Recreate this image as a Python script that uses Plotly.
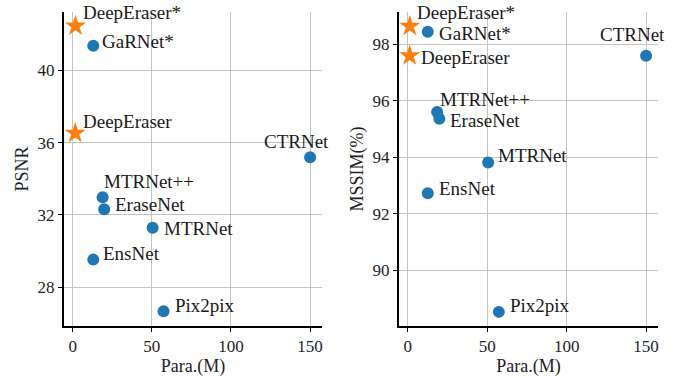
import plotly.graph_objects as go
from plotly.subplots import make_subplots

# ---- data ----
methods = ["DeepEraser*", "GaRNet*", "DeepEraser", "CTRNet", "MTRNet++",
           "EraseNet", "MTRNet", "EnsNet", "Pix2pix"]
params_psnr = [1.8, 13.0, 1.6, 150.0, 18.9, 19.9, 50.5, 13.0, 57.4]
psnr = [42.45, 41.36, 36.52, 35.19, 32.98, 32.31, 31.29, 29.53, 26.67]
params_mssim = [1.3, 12.6, 1.2, 150.0, 18.5, 19.9, 50.6, 12.6, 57.3]
mssim = [98.65, 98.45, 97.60, 97.60, 95.61, 95.37, 93.82, 92.73, 88.53]
is_ours = [True, False, True, False, False, False, False, False, False]

x_ticks = [0, 50, 100, 150]
psnr_ticks = [28, 32, 36, 40]
mssim_ticks = [90, 92, 94, 96, 98]

# ---- styles ----
BLUE = "#1f77b4"
ORANGE = "#ff7f0e"
FONT = "Liberation Serif"

# label offsets in pixels (xshift, yshift, xanchor)
offs_left = [(5, 13, "left"), (7, 4, "left"), (6, 12, "left"), (-14, 16, "center"),
             (-1, 16, "left"), (9, 5, "left"), (9, -1, "left"), (8, 6, "left"), (9, 6, "left")]
offs_right = [(5, 14, "left"), (9, -2, "left"), (9, -2, "left"), (-14, 21, "center"),
              (1, 12, "left"), (9, -2, "left"), (8, 7, "left"), (9, 5, "left"), (9, 6, "left")]

fig = make_subplots(rows=1, cols=2, horizontal_spacing=0.13)


def add_panel(col, xs, ys, offs, xref, yref):
    ox = [x for x, o in zip(xs, is_ours) if not o]
    oy = [y for y, o in zip(ys, is_ours) if not o]
    sx = [x for x, o in zip(xs, is_ours) if o]
    sy = [y for y, o in zip(ys, is_ours) if o]
    fig.add_trace(go.Scatter(x=ox, y=oy, mode="markers",
                             marker=dict(color=BLUE, size=12, symbol="circle"),
                             showlegend=False, cliponaxis=False), row=1, col=col)
    fig.add_trace(go.Scatter(x=sx, y=sy, mode="markers",
                             marker=dict(color=ORANGE, size=16, symbol="star"),
                             showlegend=False, cliponaxis=False), row=1, col=col)
    for name, x, y, (dx, dy, anc) in zip(methods, xs, ys, offs):
        fig.add_annotation(x=x, y=y, xref=xref, yref=yref, text=name,
                           showarrow=False, xanchor=anc, yanchor="middle",
                           xshift=dx, yshift=dy,
                           font=dict(family=FONT, size=19, color="#1a1a1a"))


add_panel(1, params_psnr, psnr, offs_left, "x", "y")
add_panel(2, params_mssim, mssim, offs_right, "x2", "y2")

axis_common = dict(showline=True, linecolor="black", linewidth=2, mirror=False,
                   ticks="outside", ticklen=4, tickcolor="black", automargin=False,
                   showgrid=True, gridcolor="#c4c4c4", gridwidth=1, zeroline=False,
                   tickfont=dict(family=FONT, size=17, color="#222"))

fig.update_xaxes(**axis_common, tickvals=x_ticks, range=[-5.5, 157.5],
                 title=dict(text="Para.(M)", font=dict(family=FONT, size=18, color="#222"), standoff=2))
fig.update_yaxes(**axis_common)
fig.update_xaxes(domain=[0, 0.4343], row=1, col=1)
fig.update_xaxes(domain=[0.564, 1], row=1, col=2)
fig.update_yaxes(tickvals=psnr_ticks, range=[25.86, 43.22], row=1, col=1,
                 title=dict(text="PSNR", font=dict(family=FONT, size=18, color="#222"), standoff=4))
fig.update_yaxes(tickvals=mssim_ticks, range=[88.03, 99.15], row=1, col=2,
                 title=dict(text="MSSIM(%)", font=dict(family=FONT, size=18, color="#222"), standoff=4))

fig.update_layout(width=689, height=377, margin=dict(l=64, r=31, t=12, b=51),
                  paper_bgcolor="white", plot_bgcolor="white")

fig.write_html("out.html", config={"displayModeBar": False},
               post_script="document.body.style.margin='0';document.body.style.overflow='hidden';")
